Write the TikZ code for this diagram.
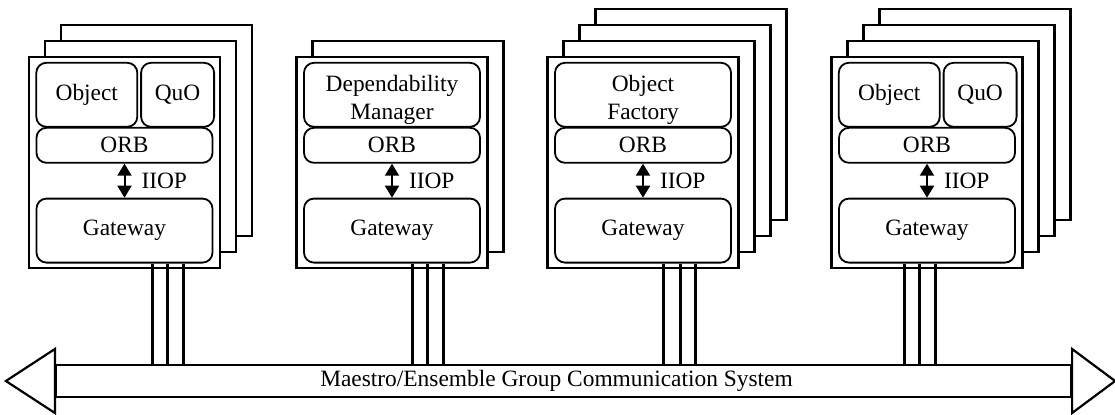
\documentclass[tikz,border=0pt]{standalone}
\usepackage{fontspec}
\setmainfont{Liberation Serif}
\usetikzlibrary{positioning,arrows.meta}

\begin{document}
\begin{tikzpicture}[x=0.5pt,y=0.5pt,
  font=\fontsize{11.7pt}{14pt}\selectfont,
  sheet/.style={draw,fill=white,line width=1.1pt,minimum width=95.5pt,minimum height=105.5pt,inner sep=0pt},
  part/.style={draw,rounded corners=5pt,line width=0.9pt,align=center,inner sep=0pt,minimum height=32pt},
  wide/.style={part,minimum width=88pt},
  orb/.style={wide,minimum height=17.5pt},
  iiop/.style={{Triangle[width=7pt,length=6pt]}-{Triangle[width=7pt,length=6pt]},line width=1pt},
  lab/.style={right,xshift=8pt,inner sep=0pt},
  wire/.style={line width=1.3pt},
  bus/.style={draw,line width=1.1pt,minimum width=507.5pt,minimum height=16pt,inner sep=0pt}]
\useasboundingbox (0,0) rectangle (1115,414);
\foreach \k in {2,1} \node[sheet] (b1\k) at (124.5+16*\k,251.5+16*\k) {};
\node[sheet] (f1) at (124.5,251.5) {};
\node[part,minimum width=50.5pt,below right=3pt and 3.75pt of f1.north west] (obj1) {Object};
\node[part,minimum width=36.5pt,right=1pt of obj1] (quo1) {QuO};
\node[orb,below=35.5pt of f1.north] (orb1) {ORB};
\node[wide,below=17pt of orb1] (gw1) {Gateway};
\draw[iiop] (orb1) -- node[lab]{IIOP} (gw1);

\node[sheet] (b21) at (408,267.5) {};
\node[sheet] (f2) at (392,251.5) {};
\node[wide,below=3pt of f2.north] (dm2) {\rule{0pt}{13pt}Dependability\\Manager};
\node[orb,below=35.5pt of f2.north] (orb2) {ORB};
\node[wide,below=17pt of orb2] (gw2) {Gateway};
\draw[iiop] (orb2) -- node[lab]{IIOP} (gw2);

\foreach \k in {3,2,1} \node[sheet] (b3\k) at (643+16*\k,251.5+16*\k) {};
\node[sheet] (f3) at (643,251.5) {};
\node[wide,below=3pt of f3.north] (of3) {\rule{0pt}{13pt}Object\\Factory};
\node[orb,below=35.5pt of f3.north] (orb3) {ORB};
\node[wide,below=17pt of orb3] (gw3) {Gateway};
\draw[iiop] (orb3) -- node[lab]{IIOP} (gw3);

\foreach \k in {3,2,1} \node[sheet] (b4\k) at (927+16*\k,251.5+16*\k) {};
\node[sheet] (f4) at (927,251.5) {};
\node[part,minimum width=50.5pt,below right=3pt and 3.75pt of f4.north west] (obj4) {Object};
\node[part,minimum width=36.5pt,right=1pt of obj4] (quo4) {QuO};
\node[orb,below=35.5pt of f4.north] (orb4) {ORB};
\node[wide,below=17pt of orb4] (gw4) {Gateway};
\draw[iiop] (orb4) -- node[lab]{IIOP} (gw4);

\node[bus] (bus) at (563.5,33) {Maestro/Ensemble Group Communication System\kern7pt};
\draw[line width=1.1pt,fill=white] ([yshift=16pt]bus.west) -- ++(-49,-32) -- ++(49,-32) -- cycle;
\draw[line width=1.1pt,fill=white] ([yshift=16pt]bus.east) -- ++(43,-32) -- ++(-43,-32) -- cycle;

\foreach \d in {14,21.5,29.5} {
  \coordinate (w) at ([xshift=\d pt]gw1.south);
  \draw[wire] (w) -- (w |- bus.north);}
\foreach \d in {10.25,17.75,25.75} {
  \coordinate (w) at ([xshift=\d pt]gw2.south);
  \draw[wire] (w) -- (w |- bus.north);}
\foreach \d in {10.25,18.75,26.25} {
  \coordinate (w) at ([xshift=\d pt]gw3.south);
  \draw[wire] (w) -- (w |- bus.north);}
\foreach \d in {-11.25,-3.75,4.25} {
  \coordinate (w) at ([xshift=\d pt]gw4.south);
  \draw[wire] (w) -- (w |- bus.north);}
\end{tikzpicture}
\end{document}
